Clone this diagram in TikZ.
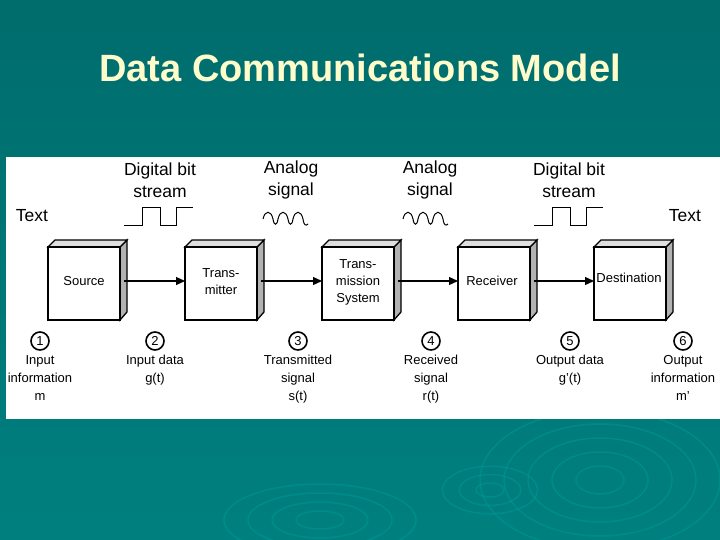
\documentclass[tikz,border=0pt]{standalone}
\usepackage{fontspec}
\usetikzlibrary{arrows.meta}
\setmainfont{Liberation Sans}
\begin{document}
\begin{tikzpicture}[x=1pt,y=-1pt,
  lbl/.style={font=\fontsize{13}{18}\selectfont,align=center,inner sep=0pt},
  top/.style={font=\fontsize{17.5}{22}\selectfont,align=center,inner sep=0pt},
  num/.style={circle,draw,line width=1.6pt,inner sep=0.5pt,minimum size=18pt,font=\fontsize{13}{13}\selectfont},
  boxtxt/.style={font=\fontsize{13}{17}\selectfont,align=center,inner sep=0pt},
  sig/.style={line width=1pt},
  arr/.style={-{Triangle[length=9pt,width=8pt]},line width=1.2pt},
  swirl/.style={teal!75!cyan,line width=1.5pt,opacity=0.4}]
\useasboundingbox (0,0) rectangle (720,540);
\begin{scope}
\clip (0,0) rectangle (720,540);
\fill[top color=teal!85!black,bottom color=teal] (0,0) rectangle (720,540);
\foreach \r in {20,40,60,80,100}{\draw[swirl] (600,480) ellipse ({\r*1.2} and \r*0.7);}
\foreach \r in {15,30,45,60}{\draw[swirl] (320,520) ellipse ({\r*1.6} and \r*0.6);}
\foreach \r in {10,22,34}{\draw[swirl] (490,490) ellipse ({\r*1.4} and \r*0.7);}
\end{scope}
\node[font=\fontsize{38}{40}\bfseries\selectfont,text=yellow!20] (title) at (360,68) {Data Communications Model};
\fill[white] (6,157) rectangle (720,419);
\foreach \n/\x in {src/48,tx/185,ts/322,rx/458,dst/594}{
  \fill[gray!60,draw=black,line width=1.3pt] (\x+72,247) -- (\x+79,240) -- (\x+79,312) -- (\x+72,320) -- cycle;
  \fill[gray!25,draw=black,line width=1.3pt] (\x,247) -- (\x+7,240) -- (\x+79,240) -- (\x+72,247) -- cycle;
  \draw[line width=1.5pt,fill=white] (\x,247) rectangle (\x+72,320);
  \coordinate (\n L) at (\x,281);
  \coordinate (\n R) at (\x+76,281);
}
\node[boxtxt] (t1) at (84,281) {Source};
\node[boxtxt] (t2) at (221,282) {Trans-\\mitter};
\node[boxtxt] (t3) at (358,282) {Trans-\\mission\\System};
\node[boxtxt] (t4) at (492,281) {Receiver};
\node[boxtxt] (t5) at (629,278) {Destination};
\draw[arr] (srcR) -- (txL);
\draw[arr] (txR) -- (tsL);
\draw[arr] (tsR) -- (rxL);
\draw[arr] (rxR) -- (dstL);
\node[top] (a1) at (160,180) {Digital bit\\stream};
\node[top] (a2) at (291,180) {Analog\\signal};
\node[top] (a3) at (430,180) {Analog\\signal};
\node[top] (a4) at (569,180) {Digital bit\\stream};
\node[top] (x1) at (32,216) {Text};
\node[top] (x2) at (685,216) {Text};
\foreach \x in {124,534}{
\draw[sig] (\x,226) -- (\x+18,226) -- (\x+18,208) -- (\x+36,208) -- (\x+36,226) -- (\x+52,226) -- (\x+52,208) -- (\x+69,208);}
\foreach \x in {263,403}{
\draw[sig] (\x,219) .. controls (\x+2,210) and (\x+8,210) .. (\x+10,219) .. controls (\x+11,226) and (\x+14,226) .. (\x+15,219)
 .. controls (\x+17,210) and (\x+23,210) .. (\x+25,219) .. controls (\x+26,226) and (\x+29,226) .. (\x+30,219)
 .. controls (\x+32,210) and (\x+38,210) .. (\x+40,219) .. controls (\x+41,226) and (\x+43,226) .. (\x+45,224);}
\foreach \i/\x/\t in {1/40/Input\\information\\m,2/155/Input data\\g(t),3/298/Transmitted\\signal\\s(t),4/431/Received\\signal\\r(t),5/570/Output data\\g'(t),6/683/Output\\information\\m'}{
  \node[num] (n\i) at (\x,341) {\i};
  \node[lbl,anchor=north] (l\i) at (\x,355) {\t};
}
\end{tikzpicture}
\end{document}
